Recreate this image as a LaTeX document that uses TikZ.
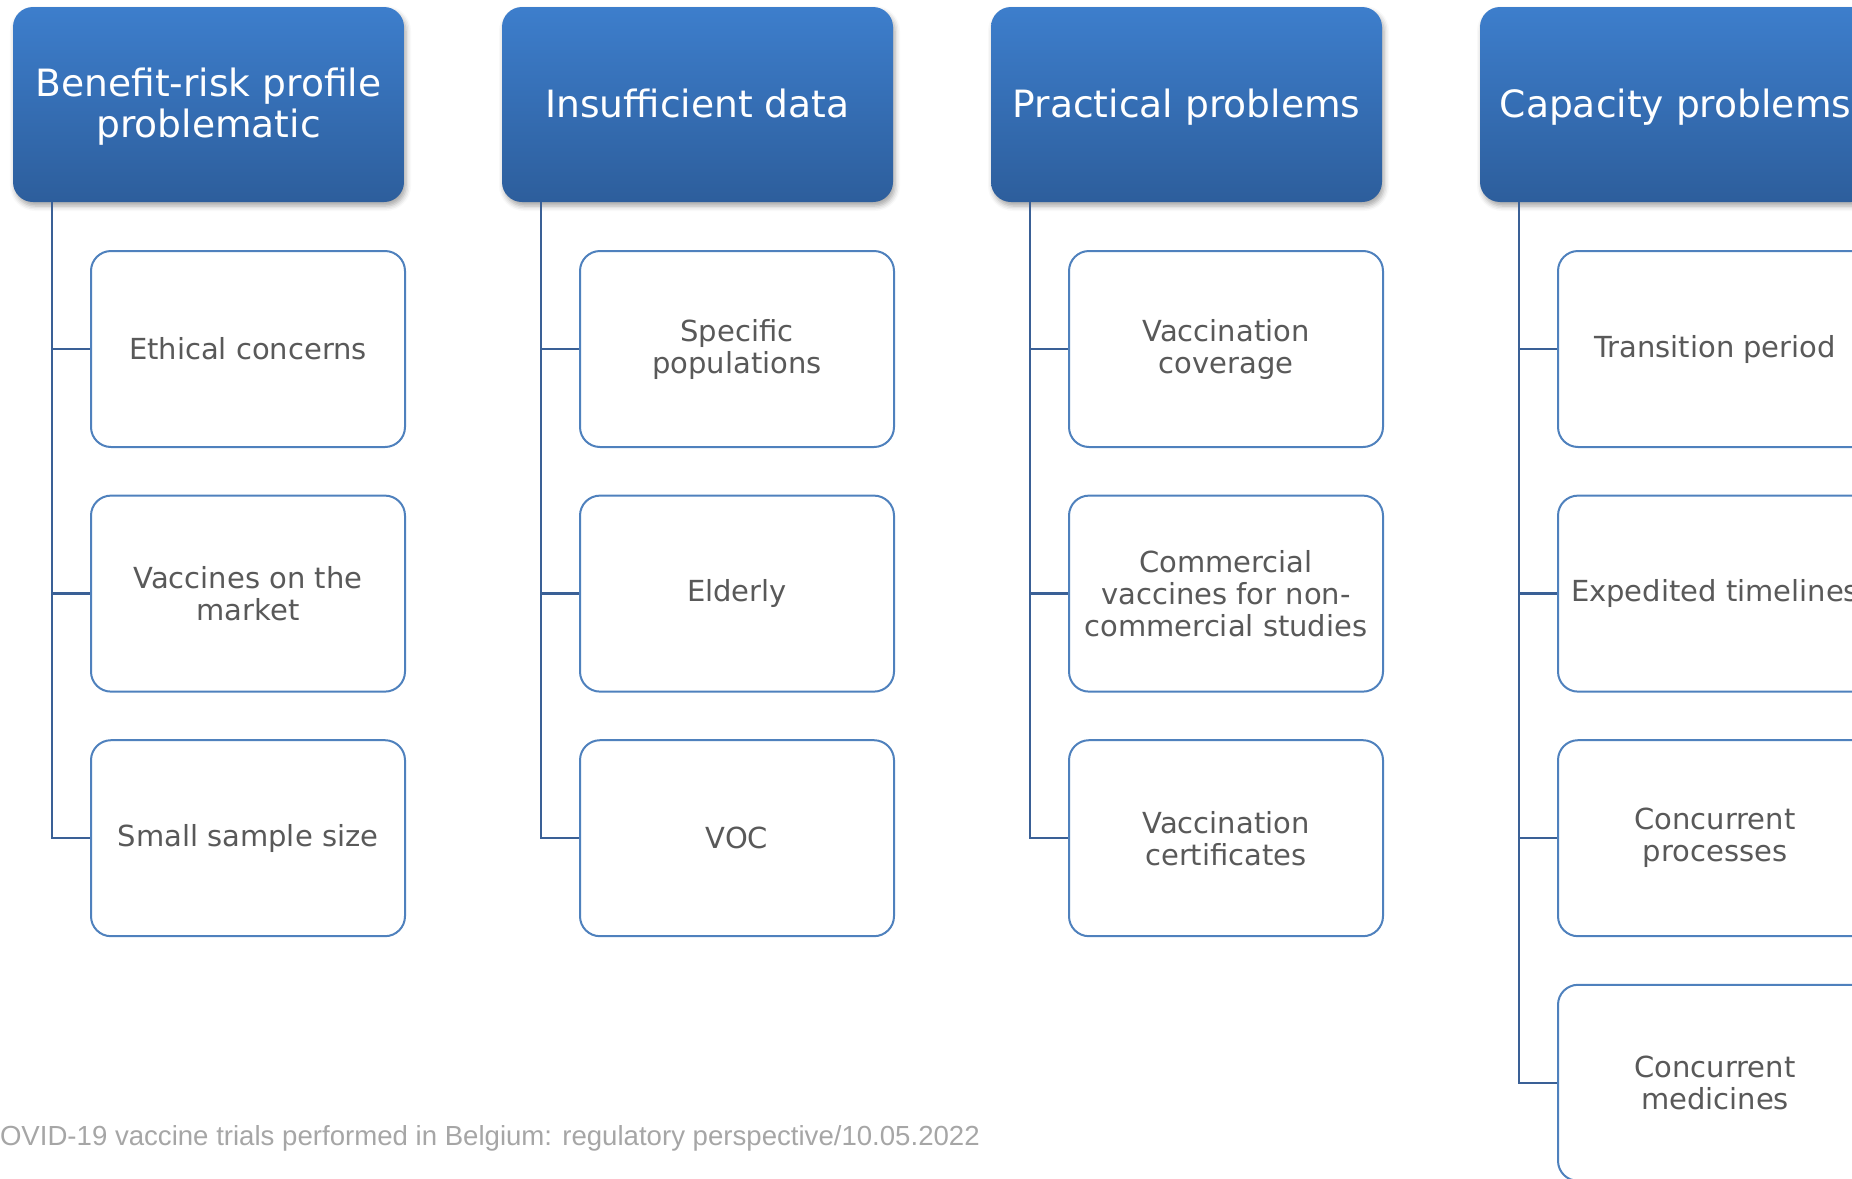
\documentclass[tikz,border=0pt]{standalone}
\usepackage{fontspec}
\setmainfont{DejaVu Sans}
\newfontfamily\footfont{Liberation Sans}
\usetikzlibrary{shadows.blur}

\definecolor{headtop}{RGB}{61,126,204}
\definecolor{headbot}{RGB}{45,94,156}
\definecolor{boxline}{RGB}{79,129,189}
\definecolor{connline}{RGB}{58,96,150}
\definecolor{boxtext}{RGB}{89,89,89}
\definecolor{foottext}{RGB}{166,166,166}

\tikzset{
  head/.style={rounded corners=20pt, minimum width=391pt, minimum height=195pt,
    top color=headtop, bottom color=headbot, text=white, inner sep=0pt,
    font=\fontsize{37.6}{41.5}\selectfont, align=center,
    blur shadow={shadow xshift=2pt, shadow yshift=-4pt, shadow blur radius=5pt, shadow opacity=35}},
  oneline/.style={text height=25.6pt, text depth=0pt},
  item/.style={rounded corners=20pt, minimum width=314pt, minimum height=196pt,
    draw=boxline, line width=2pt, fill=white, text=boxtext, inner sep=0pt,
    font=\fontsize{29}{32}\selectfont, align=center},
  conn/.style={draw=connline, line width=2.5pt},
  foot/.style={text=foottext, font=\footfont\fontsize{27.6}{31}\selectfont, inner sep=0pt}
}

\begin{document}
\begin{tikzpicture}[x=1pt, y=-1pt]
\useasboundingbox (0,0) rectangle (1852,1178);

% column headers
\node[head] (h1) at (208.5,104.5) {};
\node[text=white, font=\fontsize{37.6}{41.5}\selectfont, align=center, inner sep=0pt]
  (h1t) at (208.5,106.4) {Benefit-risk profile\\problematic};
\node[head, oneline] (h2) at (697.5,104.5) {Insufficient data};
\node[head, oneline] (h3) at (1186.5,104.5) {Practical problems};
\node[head, oneline] (h4) at (1675.5,104.5) {Capacity problems};

% items under each header
\node[item] (c1a) at (248,349) {Ethical concerns};
\node[item] (c1b) at (248,593.6) {Vaccines on the\\market};
\node[item] (c1c) at (248,838.2) {Small sample size};

\node[item] (c2a) at (737,349) {Specific\\populations};
\node[item] (c2b) at (737,593.6) {Elderly};
\node[item] (c2c) at (737,838.2) {VOC};

\node[item] (c3a) at (1226,349) {Vaccination\\coverage};
\node[item] (c3b) at (1226,593.6) {Commercial\\vaccines for non-\\commercial studies};
\node[item] (c3c) at (1226,838.2) {Vaccination\\certificates};

\node[item] (c4a) at (1715,349) {Transition period};
\node[item] (c4b) at (1715,593.6) {Expedited timelines};
\node[item] (c4c) at (1715,838.2) {Concurrent\\processes};
\node[item] (c4d) at (1715,1082.8) {Concurrent\\medicines};

% tree connectors
\foreach \h/\c in {h1/c1a,h1/c1b,h1/c1c,h2/c2a,h2/c2b,h2/c2c,h3/c3a,h3/c3b,h3/c3c,h4/c4a,h4/c4b,h4/c4c,h4/c4d}
  \draw[conn] ([xshift=39pt]\h.south west) |- (\c.west);

% footer
\node[foot, anchor=east] (footer) at (980,1138)
  {COVID-19 vaccine trials performed in Belgium: regulatory perspective/10.05.2022};
\end{tikzpicture}
\end{document}
